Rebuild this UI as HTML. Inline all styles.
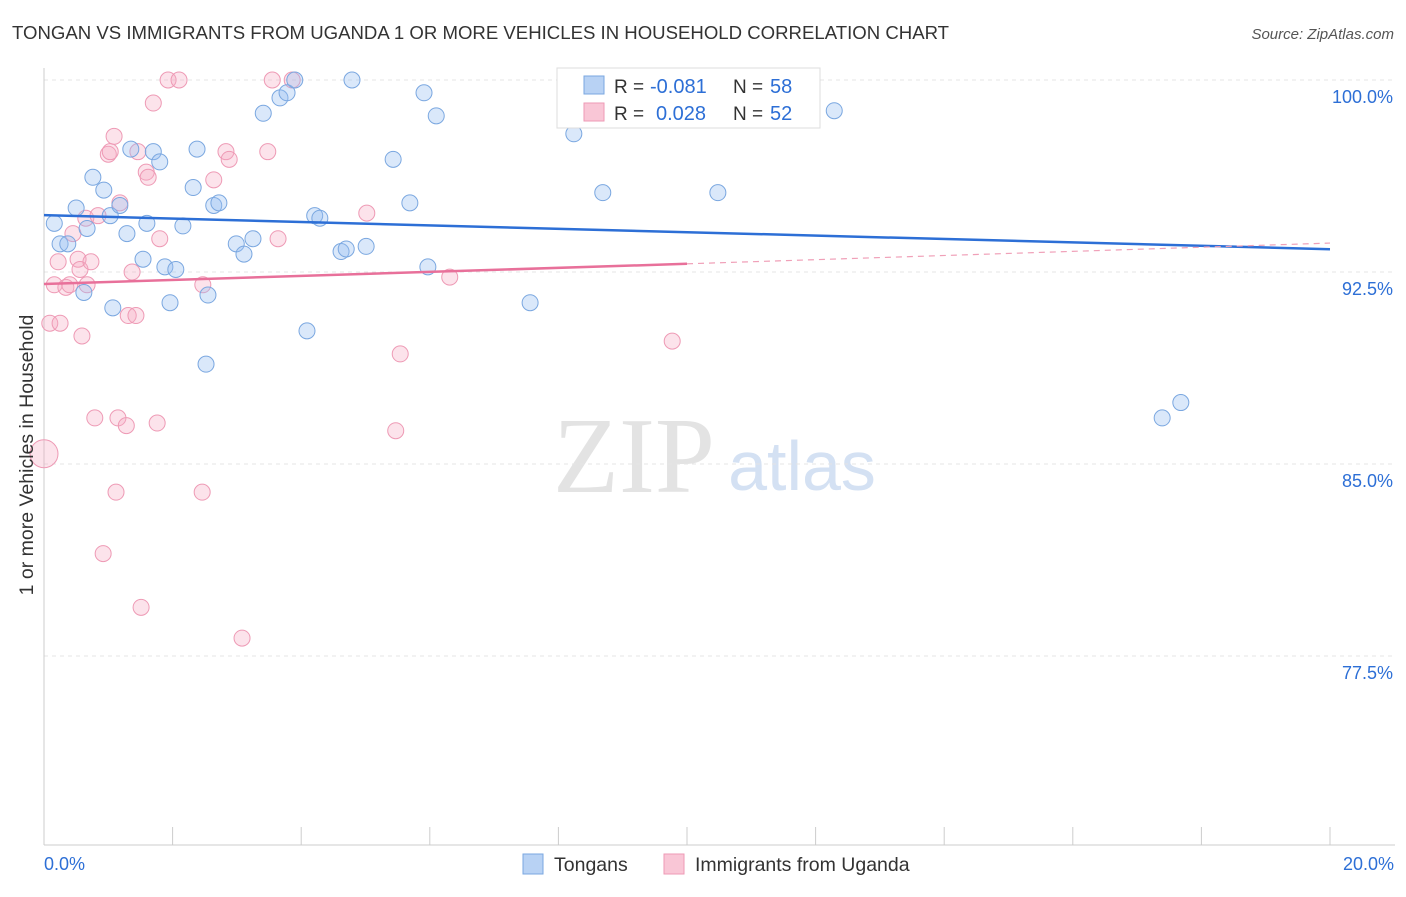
<!DOCTYPE html>
<html><head><meta charset="utf-8"><style>
body{margin:0;background:#fff;font-family:"Liberation Sans",sans-serif;}
</style></head><body>
<svg id="chart" width="1406" height="892" xmlns="http://www.w3.org/2000/svg">
<text x="12" y="39" font-size="18.6" fill="#333">TONGAN VS IMMIGRANTS FROM UGANDA 1 OR MORE VEHICLES IN HOUSEHOLD CORRELATION CHART</text>
<text x="1394" y="39" font-size="15" fill="#555" font-style="italic" text-anchor="end">Source: ZipAtlas.com</text>
<text x="634" y="492" font-size="108" fill="#e3e3e3" font-family="Liberation Serif" text-anchor="middle">ZIP</text>
<text x="802" y="490" font-size="70" fill="#d4e1f3" text-anchor="middle">atlas</text>
<g id="grid"></g><g id="axes"></g><g id="pts"></g><g id="trend"></g>
<text x="33" y="455" font-size="19.5" fill="#333" text-anchor="middle" transform="rotate(-90 33 455)">1 or more Vehicles in Household</text>
<g>
<rect x="557" y="68" width="263" height="60" fill="#fff" stroke="#ddd"/>
<rect x="584" y="76" width="20" height="18" fill="#b8d2f4" stroke="#7aa7e0"/>
<rect x="584" y="103" width="20" height="18" fill="#f9c6d6" stroke="#ee9ab5"/>
<text x="614" y="93" font-size="19" fill="#333">R =</text>
<text x="650" y="93" font-size="20" fill="#2d6fd6">-0.081</text>
<text x="733" y="93" font-size="19" fill="#333">N =</text>
<text x="770" y="93" font-size="20" fill="#2d6fd6">58</text>
<text x="614" y="120" font-size="19" fill="#333">R =</text>
<text x="656" y="120" font-size="20" fill="#2d6fd6">0.028</text>
<text x="733" y="120" font-size="19" fill="#333">N =</text>
<text x="770" y="120" font-size="20" fill="#2d6fd6">52</text>
</g>
<g>
<rect x="523" y="854" width="20" height="20" fill="#b8d2f4" stroke="#7aa7e0"/>
<text x="554" y="871" font-size="19.5" fill="#333">Tongans</text>
<rect x="664" y="854" width="20" height="20" fill="#f9c6d6" stroke="#ee9ab5"/>
<text x="695" y="871" font-size="19.5" fill="#333">Immigrants from Uganda</text>
</g>
</svg>
<script>
const yTicks=[100,92.5,85,77.5];
const xTickVals=[0,2,4,6,8,10,12,14,16,18,20];
const blueX=[0.16,0.25,0.37,0.5,0.67,0.76,0.93,1.03,0.62,1.07,1.18,1.29,1.35,1.54,1.6,1.7,1.8,1.88,2.05,1.96,2.16,2.32,2.38,2.64,2.72,2.55,2.52,2.99,3.11,3.25,3.41,3.67,3.78,3.9,4.09,4.21,4.29,4.62,4.7,4.79,5.01,5.43,5.69,5.91,5.97,6.1,7.56,8.18,8.24,8.69,10.48,12.29,17.39,17.68];
const blueY=[94.4,93.6,93.6,95.0,94.2,96.2,95.7,94.7,91.7,91.1,95.1,94.0,97.3,93.0,94.4,97.2,96.8,92.7,92.6,91.3,94.3,95.8,97.3,95.1,95.2,91.6,88.9,93.6,93.2,93.8,98.7,99.3,99.5,100,90.2,94.7,94.6,93.3,93.4,100,93.5,96.9,95.2,99.5,92.7,98.6,91.3,98.8,97.9,95.6,95.6,98.8,86.8,87.4];
const pinkX=[0,0.09,0.16,0.22,0.25,0.34,0.4,0.45,0.53,0.56,0.59,0.65,0.67,0.73,0.79,0.84,0.92,1.0,1.03,1.09,1.12,1.15,1.18,1.28,1.31,1.37,1.43,1.46,1.51,1.59,1.62,1.7,1.76,1.8,1.93,2.1,2.46,2.47,2.64,2.83,2.88,3.08,3.48,3.55,3.64,3.86,5.02,5.47,5.54,6.31,9.77];
const pinkY=[85.4,90.5,92.0,92.9,90.5,91.9,92.0,94.0,93.0,92.6,90.0,94.6,92.0,92.9,86.8,94.7,81.5,97.1,97.2,97.8,83.9,86.8,95.2,86.5,90.8,92.5,90.8,97.2,79.4,96.4,96.2,99.1,86.6,93.8,100,100,83.9,92.0,96.1,97.2,96.9,78.2,97.2,100,93.8,100,94.8,86.3,89.3,92.3,89.8];
const blueTrend=[94.72,93.39];
const pinkTrend=[92.03,92.82,93.63];
const NS="http://www.w3.org/2000/svg";
const X0=44,XS=64.3,Y0=80,YS=25.6;
const xs=v=>X0+v*XS, ys=v=>Y0+(100-v)*YS;
function mk(t,a,p){const e=document.createElementNS(NS,t);for(const k in a)e.setAttribute(k,a[k]);document.getElementById(p).appendChild(e);return e;}
yTicks.forEach(v=>{
 const l=mk('line',{x1:44,x2:1395,y1:ys(v),y2:ys(v),stroke:'#e4e4e4','stroke-dasharray':'4,4'},'grid');
 
 
 const t=mk('text',{x:1393,y:ys(v)+23,'font-size':18,fill:'#2d6fd6','text-anchor':'end'},'axes');
 t.textContent=v.toFixed(1)+'%';
 
 
});
mk('line',{x1:44,x2:44,y1:68,y2:845,stroke:'#ccc'},'axes');
mk('line',{x1:44,x2:1395,y1:845,y2:845,stroke:'#ccc'},'axes');
xTickVals.forEach(v=>{
 const l=mk('line',{x1:xs(v),x2:xs(v),y1:827,y2:845,stroke:'#ccc'},'axes');
 
 
});
[[0,'0.0%','start'],[20,'20.0%','end']].forEach(([v,s,a])=>{
 const t=mk('text',{x:v==0?44:1394,y:870,'font-size':18,fill:'#2d6fd6','text-anchor':a},'axes');
 t.textContent=s;
 
 
});
pinkX.forEach((x,i)=>{
 const c=mk('circle',{cx:xs(x),cy:ys(pinkY[i]),r:i==0?14:8,fill:'rgba(246,170,195,0.33)',stroke:'#ee9ab5','stroke-width':1},'pts');
 
 
});
blueX.forEach((x,i)=>{
 const c=mk('circle',{cx:xs(x),cy:ys(blueY[i]),r:8,fill:'rgba(150,190,240,0.35)',stroke:'#7aa7e0','stroke-width':1},'pts');
 
 
});
let b=mk('line',{x1:xs(0),y1:ys(blueTrend[0]),x2:xs(20),y2:ys(blueTrend[1]),stroke:'#2d6fd6','stroke-width':2.5},'trend');


let p=mk('line',{x1:xs(0),y1:ys(pinkTrend[0]),x2:xs(10),y2:ys(pinkTrend[1]),stroke:'#e8709a','stroke-width':2.5},'trend');


let pd=mk('line',{x1:xs(10),y1:ys(pinkTrend[1]),x2:xs(20),y2:ys(pinkTrend[2]),stroke:'#f0a0b8','stroke-width':1.2,'stroke-dasharray':'6,5'},'trend');


</script>
</body></html>
